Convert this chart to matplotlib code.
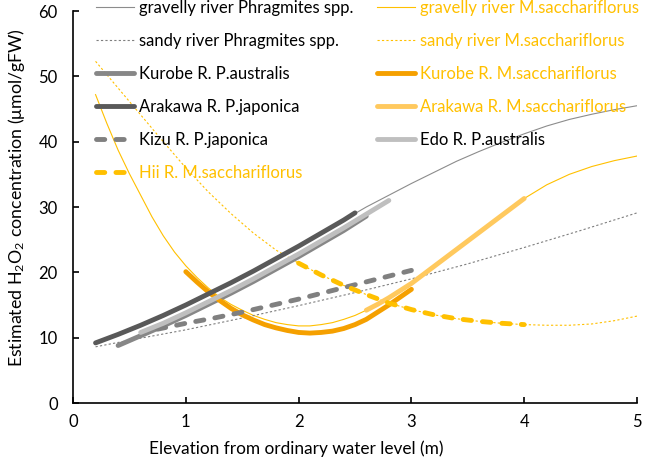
import matplotlib
matplotlib.use("Agg")
import matplotlib.pyplot as plt

plt.rcParams['font.family'] = ['Lato', 'DejaVu Sans']
plt.rcParams['mathtext.fontset'] = 'custom'
plt.rcParams['mathtext.rm'] = 'Lato'
plt.rcParams['mathtext.it'] = 'Lato:italic'

# ---- data ----
gravel_P_x = [0.2, 0.4, 0.6, 0.8, 1.0, 1.2, 1.4, 1.6, 1.8, 2.0, 2.2, 2.4, 2.6, 2.8, 3.0, 3.2, 3.4, 3.6, 3.8, 4.0, 4.2, 4.4, 4.6, 4.8, 5.0]
gravel_P_y = [9.1, 10.4, 11.8, 13.3, 14.9, 16.6, 18.3, 20.1, 22.0, 24.0, 26.0, 28.0, 30.0, 31.8, 33.6, 35.3, 37.0, 38.5, 39.9, 41.2, 42.4, 43.4, 44.2, 44.9, 45.5]

gravel_M_x = [0.2, 0.3, 0.4, 0.5, 0.6, 0.7, 0.8, 0.9, 1.0, 1.1, 1.2, 1.3, 1.4, 1.5, 1.6, 1.7, 1.8, 1.9, 2.0, 2.1, 2.2, 2.3, 2.4, 2.5, 2.6, 2.7, 2.8, 2.9, 3.0, 3.2, 3.4, 3.6, 3.8, 4.0, 4.2, 4.4, 4.6, 4.8, 5.0]
gravel_M_y = [47.2, 42.8, 38.7, 35.1, 31.8, 28.5, 25.6, 23.1, 21.0, 19.2, 17.6, 16.2, 15.1, 14.2, 13.4, 12.8, 12.3, 12.0, 11.8, 11.8, 12.0, 12.3, 12.8, 13.4, 14.2, 15.1, 16.1, 17.2, 18.3, 20.9, 23.5, 26.1, 28.7, 31.3, 33.4, 35.0, 36.2, 37.1, 37.8]

sandy_P_x = [0.2, 0.5, 1.0, 1.5, 2.0, 2.5, 3.0, 3.5, 4.0, 4.5, 5.0]
sandy_P_y = [8.6, 9.6, 11.2, 13.0, 14.9, 16.9, 19.0, 21.3, 23.8, 26.4, 29.1]

sandy_M_x = [0.2, 0.4, 0.6, 0.8, 1.0, 1.2, 1.4, 1.6, 1.8, 2.0, 2.2, 2.4, 2.6, 2.8, 3.0, 3.2, 3.4, 3.6, 3.8, 4.0, 4.2, 4.4, 4.6, 4.8, 5.0]
sandy_M_y = [52.3, 48.2, 44.1, 40.0, 36.0, 32.3, 29.0, 26.0, 23.4, 21.4, 19.6, 18.0, 16.6, 15.3, 14.3, 13.5, 12.9, 12.5, 12.2, 12.0, 11.9, 11.9, 12.1, 12.6, 13.3]

kurobe_P_x = [0.4, 0.6, 0.8, 1.0, 1.2, 1.4, 1.6, 1.8, 2.0, 2.2, 2.4, 2.6]
kurobe_P_y = [8.8, 10.3, 11.8, 13.4, 15.1, 16.8, 18.6, 20.5, 22.4, 24.4, 26.4, 28.6]

kurobe_M_x = [1.0, 1.1, 1.2, 1.3, 1.4, 1.5, 1.6, 1.7, 1.8, 1.9, 2.0, 2.1, 2.2, 2.3, 2.4, 2.5, 2.6, 2.7, 2.8, 2.9, 3.0]
kurobe_M_y = [20.1, 18.5, 17.0, 15.7, 14.5, 13.5, 12.7, 12.0, 11.5, 11.1, 10.8, 10.7, 10.8, 11.0, 11.4, 12.0, 12.8, 13.9, 15.0, 16.2, 17.4]

arakawa_P_x = [0.2, 0.4, 0.6, 0.8, 1.0, 1.2, 1.4, 1.6, 1.8, 2.0, 2.2, 2.4, 2.5]
arakawa_P_y = [9.2, 10.5, 11.9, 13.4, 15.0, 16.7, 18.4, 20.2, 22.1, 24.0, 26.0, 28.0, 29.1]

arakawa_M_x = [2.6, 2.7, 2.8, 2.9, 3.0, 3.2, 3.4, 3.6, 3.8, 4.0]
arakawa_M_y = [14.2, 15.1, 16.1, 17.2, 18.3, 20.9, 23.5, 26.1, 28.7, 31.3]

kizu_P_x = [0.75, 1.0, 1.25, 1.5, 2.0, 2.5, 3.0]
kizu_P_y = [11.3, 12.2, 13.0, 13.9, 15.9, 18.1, 20.3]

edo_P_x = [0.6, 0.8, 1.0, 1.2, 1.4, 1.6, 1.8, 2.0, 2.2, 2.4, 2.6, 2.8]
edo_P_y = [10.8, 12.2, 13.8, 15.5, 17.2, 19.0, 20.9, 22.8, 24.8, 26.8, 28.9, 31.0]

hii_M_x = [2.0, 2.2, 2.4, 2.6, 2.8, 3.0, 3.2, 3.4, 3.6, 3.8, 4.0]
hii_M_y = [21.4, 19.6, 18.0, 16.6, 15.3, 14.3, 13.5, 12.9, 12.5, 12.2, 12.0]

x_ticks = [0, 1, 2, 3, 4, 5]
y_ticks = [0, 10, 20, 30, 40, 50, 60]

YEL = '#ffc000'
W, H = 646, 469
FS = 12
fig = plt.figure(figsize=(W / 100, H / 100), dpi=100)
ax = fig.add_axes([73 / W, 1 - 403 / H, (637 - 73) / W, (403 - 11) / H])

thin = 0.8
thick = 3.5
dash = (0, (1.7, 2.3))
h = {}
h['gP'], = ax.plot(gravel_P_x, gravel_P_y, color='#8c8c8c', lw=thin, label='gravelly river Phragmites spp.')
h['gM'], = ax.plot(gravel_M_x, gravel_M_y, color=YEL, lw=thin, label='gravelly river M.sacchariflorus')
h['sP'], = ax.plot(sandy_P_x, sandy_P_y, color='#7f7f7f', lw=thin, ls=(0, (2, 2)), label='sandy river Phragmites spp.')
h['sM'], = ax.plot(sandy_M_x, sandy_M_y, color=YEL, lw=thin, ls=(0, (2, 2)), label='sandy river M.sacchariflorus')
h['kP'], = ax.plot(kurobe_P_x, kurobe_P_y, color='#878787', lw=thick, solid_capstyle='round', label='Kurobe R. P.australis')
h['kM'], = ax.plot(kurobe_M_x, kurobe_M_y, color='#f5a000', lw=thick, solid_capstyle='round', label='Kurobe R. M.sacchariflorus')
h['aP'], = ax.plot(arakawa_P_x, arakawa_P_y, color='#595959', lw=thick, solid_capstyle='round', label='Arakawa R. P.japonica')
h['aM'], = ax.plot(arakawa_M_x, arakawa_M_y, color='#ffc95e', lw=thick, solid_capstyle='round', label='Arakawa R. M.sacchariflorus')
h['zP'], = ax.plot(kizu_P_x, kizu_P_y, color='#808080', lw=thick, ls=dash, dash_capstyle='round', label='Kizu R. P.japonica')
h['eP'], = ax.plot(edo_P_x, edo_P_y, color='#bfbfbf', lw=thick, solid_capstyle='round', label='Edo R. P.australis')
h['hM'], = ax.plot(hii_M_x, hii_M_y, color=YEL, lw=thick, ls=dash, dash_capstyle='round', label='Hii R. M.sacchariflorus')

ax.set_xlim(0, 5)
ax.set_ylim(0, 60)
ax.set_xticks(x_ticks)
ax.set_yticks(y_ticks)
for s in ['top', 'right']:
    ax.spines[s].set_visible(False)
for s in ['left', 'bottom']:
    ax.spines[s].set_linewidth(1.2)
    ax.spines[s].set_color('black')
ax.tick_params(axis='both', direction='in', length=4, width=1.2, labelsize=FS, colors='black')
ax.tick_params(axis='x', pad=8)
ax.tick_params(axis='y', pad=11)

fig.text(296 / W, 1 - 449 / H, 'Elevation from ordinary water level (m)', ha='center', va='center', fontsize=12.4)
fig.text(17 / W, 1 - 198 / H, 'Estimated H$_2$O$_2$ concentration (μmol/gFW)', ha='center', va='center',
         rotation=90, fontsize=12.8)

col1 = ['gP', 'sP', 'kP', 'aP', 'zP', 'hM']
col2 = ['gM', 'sM', 'kM', 'aM', 'eP']
legkw = dict(loc='upper left', frameon=False, fontsize=FS, borderpad=0, borderaxespad=0,
             handlelength=2.3, handletextpad=0.3, labelspacing=1.02,
             bbox_transform=fig.transFigure)
leg1 = ax.legend([h[k] for k in col1], [h[k].get_label() for k in col1],
                 bbox_to_anchor=(96 / W, 1 - 0 / H), **legkw)
ax.add_artist(leg1)
leg2 = ax.legend([h[k] for k in col2], [h[k].get_label() for k in col2],
                 bbox_to_anchor=(377 / W, 1 - 0 / H), **legkw)
for leg, keys in ((leg1, col1), (leg2, col2)):
    for t, k in zip(leg.get_texts(), keys):
        t.set_color(YEL if k.endswith('M') else 'black')

fig.savefig('out.png', dpi=100)
